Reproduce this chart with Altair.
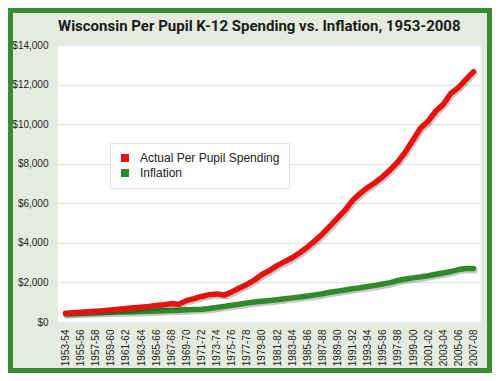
import altair as alt
import pandas as pd

# School years 1953-54 ... 2007-08
start_years = list(range(1953, 2008))
periods = [f"{y}-{(y + 1) % 100:02d}" for y in start_years]
tick_periods = periods[::2]

series_names = ["Actual Per Pupil Spending", "Inflation"]
series_colors = ["#e5130f", "#2f8a29"]

spending = [440, 465, 490, 515, 545, 575, 610, 645, 680, 715,
            750, 790, 830, 870, 930, 900, 1080, 1180, 1290, 1380,
            1420, 1360, 1520, 1720, 1900, 2120, 2400, 2600, 2850, 3050,
            3250, 3500, 3780, 4100, 4450, 4850, 5250, 5650, 6150, 6500,
            6800, 7050, 7350, 7700, 8100, 8600, 9200, 9800, 10150, 10650,
            11000, 11550, 11850, 12250, 12650]

inflation = [420, 430, 440, 455, 470, 480, 490, 500, 510, 520,
             530, 540, 555, 570, 585, 600, 615, 630, 650, 680,
             730, 790, 850, 900, 960, 1010, 1050, 1090, 1130, 1170,
             1220, 1260, 1310, 1370, 1430, 1500, 1560, 1620, 1680, 1730,
             1790, 1850, 1920, 1990, 2100, 2170, 2230, 2280, 2340, 2410,
             2480, 2550, 2650, 2700, 2700]

y_ticks = [0, 2000, 4000, 6000, 8000, 10000, 12000, 14000]

df = pd.DataFrame({
    "period": periods * 2,
    "value": spending + inflation,
    "series": [series_names[0]] * len(periods) + [series_names[1]] * len(periods),
})

W, H = 423, 277
PAD = {"left": 50, "top": 37, "right": 11, "bottom": 51}

x_enc = alt.X("period:O", sort=periods,
              scale=alt.Scale(type="point", padding=1.25),
              axis=alt.Axis(values=tick_periods, labelAngle=-90, title=None,
                            labelFont="Liberation Sans", labelFontSize=10,
                            labelColor="#222222", labelPadding=7,
                            domain=False, ticks=False, grid=False))
y_enc = alt.Y("value:Q", scale=alt.Scale(domain=[0, 14000], nice=False),
              axis=alt.Axis(values=y_ticks, format="$,d", title=None,
                            labelFont="Liberation Sans", labelFontSize=10,
                            labelColor="#222222", labelPadding=10,
                            domain=False, ticks=False, grid=True,
                            gridColor="#e3e9dd", gridWidth=1.5))

base = alt.Chart(df)

def line_layers(name):
    sub = base.transform_filter(alt.datum.series == name)
    shadow = sub.mark_line(strokeWidth=6, strokeCap="round", strokeJoin="round",
                           xOffset=1.2, yOffset=1.8, opacity=0.22).encode(
        x=x_enc, y=y_enc, color=alt.value("#000000"))
    line = sub.mark_line(strokeWidth=5.5, strokeCap="round", strokeJoin="round").encode(
        x=x_enc, y=y_enc,
        color=alt.Color("series:N",
                        scale=alt.Scale(domain=series_names, range=series_colors),
                        legend=alt.Legend(title=None, orient="none", legendX=52, legendY=98,
                                          symbolType="square", symbolSize=9,
                                          symbolStrokeWidth=5, labelFont="Liberation Sans",
                                          labelFontSize=12, labelColor="#222222",
                                          labelOffset=9, rowPadding=3, clipHeight=12,
                                          padding=9, fillColor="#ffffff",
                                          strokeColor="#dfe6d8")))
    return [shadow, line]

border = alt.Chart(pd.DataFrame({"k": [0]})).mark_rect(
    filled=False, stroke="#3a8a32", strokeWidth=5).encode(
    x=alt.value(-47.5), x2=alt.value(431.5), y=alt.value(-34.5), y2=alt.value(325.5))

chart = alt.layer(
    border,
    *line_layers(series_names[1]),
    *line_layers(series_names[0]),
).properties(
    width=W, height=H,
    padding=PAD,
    autosize=alt.AutoSizeParams(type="none"),
    background="#e5ecdf",
    title=alt.TitleParams("Wisconsin Per Pupil K-12 Spending vs. Inflation, 1953-2008",
                          anchor="start", frame="group", font="Roboto", fontSize=15,
                          fontWeight="bold", color="#1a1a1a", offset=10,
                          baseline="alphabetic", dy=48),
).configure_view(fill="#ffffff", stroke=None)

chart.save("out.html", embed_options={"renderer": "svg", "actions": False})
